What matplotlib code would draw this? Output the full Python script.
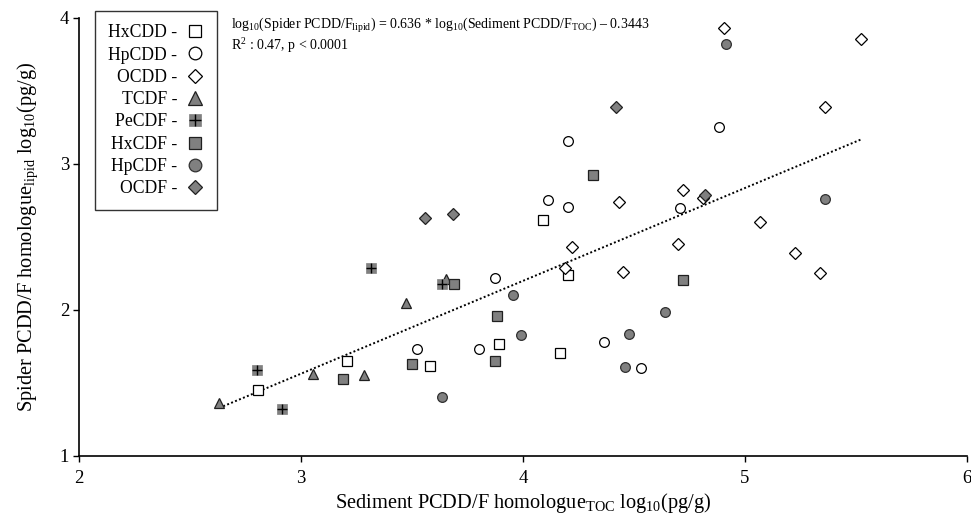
import matplotlib
matplotlib.use("Agg")
import matplotlib.pyplot as plt
from matplotlib.legend_handler import HandlerTuple
import numpy as np

# -------- DATA (log10 pg/g) --------
hxcdd_x = [2.805, 3.209, 3.581, 3.892, 4.168, 4.089, 4.203]
hxcdd_y = [1.452, 1.651, 1.616, 1.767, 1.708, 2.616, 2.240]

hpcdd_x = [3.521, 3.800, 3.872, 4.114, 4.201, 4.204, 4.363, 4.532, 4.705, 4.881]
hpcdd_y = [1.731, 1.731, 2.217, 2.751, 2.703, 3.155, 1.783, 1.605, 2.699, 3.255]

ocdd_x = [4.191, 4.221, 4.431, 4.452, 4.698, 4.722, 4.809, 4.907, 5.068, 5.224, 5.339, 5.360, 5.523]
ocdd_y = [2.288, 2.429, 2.738, 2.258, 2.450, 2.820, 2.767, 3.934, 2.603, 2.390, 2.253, 3.393, 3.856]

tcdf_x = [2.632, 3.056, 3.282, 3.473, 3.653]
tcdf_y = [1.365, 1.562, 1.555, 2.046, 2.212]

pecdf_x = [2.802, 2.914, 3.314, 3.637]
pecdf_y = [1.591, 1.324, 2.288, 2.180]

hxcdf_x = [3.188, 3.502, 3.688, 3.872, 3.881, 4.317, 4.721]
hxcdf_y = [1.525, 1.630, 2.180, 1.653, 1.961, 2.925, 2.208]

hpcdf_x = [3.637, 3.956, 3.992, 4.459, 4.479, 4.641, 4.913, 5.362]
hpcdf_y = [1.404, 2.105, 1.829, 1.612, 1.838, 1.986, 3.820, 2.758]

ocdf_x = [3.559, 3.686, 4.419, 4.821]
ocdf_y = [2.628, 2.655, 3.393, 2.786]

# regression from the figure
slope = 0.636
intercept = -0.3443
r2_text = "0.47"
p_text = "0.0001"

# -------- STYLE --------
plt.rcParams['font.family'] = ['Liberation Serif', 'DejaVu Serif']
plt.rcParams['mathtext.fontset'] = 'custom'
plt.rcParams['mathtext.rm'] = 'Liberation Serif'
plt.rcParams['mathtext.it'] = 'Liberation Serif:italic'
plt.rcParams['mathtext.bf'] = 'Liberation Serif:bold'

fig = plt.figure(figsize=(9.71, 5.14), dpi=100)
ax = fig.add_axes([79/971, 1-456/514, 888/971, 438/514])

gray = '#808080'
ms = 7

h1, = ax.plot(hxcdd_x, hxcdd_y, 's', ms=ms, mfc='white', mec='black', mew=0.9, ls='none')
h2, = ax.plot(hpcdd_x, hpcdd_y, 'o', ms=ms, mfc='white', mec='black', mew=0.9, ls='none')
h3, = ax.plot(ocdd_x, ocdd_y, 'D', ms=5.8, mfc='white', mec='black', mew=0.9, ls='none')
h4, = ax.plot(tcdf_x, tcdf_y, '^', ms=ms + 0.5, mfc=gray, mec='#202020', mew=0.9, ls='none')
h5a, = ax.plot(pecdf_x, pecdf_y, 's', ms=ms, mfc=gray, mec=gray, mew=0.5, ls='none')
h5b, = ax.plot(pecdf_x, pecdf_y, '+', ms=ms, mec='black', mew=1.0, ls='none')
h6, = ax.plot(hxcdf_x, hxcdf_y, 's', ms=ms, mfc=gray, mec='#202020', mew=0.9, ls='none')
h7, = ax.plot(hpcdf_x, hpcdf_y, 'o', ms=ms, mfc=gray, mec='#303030', mew=0.9, ls='none')
h8, = ax.plot(ocdf_x, ocdf_y, 'D', ms=5.8, mfc=gray, mec='#202020', mew=0.9, ls='none')

# -------- TRENDLINE --------
all_x = np.concatenate([hxcdd_x, hpcdd_x, ocdd_x, tcdf_x, pecdf_x, hxcdf_x, hpcdf_x, ocdf_x])
fx = np.array([all_x.min(), all_x.max()])
ax.plot(fx, slope * fx + intercept, ls=(0, (1, 1.2)), color='black', lw=1.4, zorder=1)

# -------- AXES --------
ax.set_xlim(2, 6)
ax.set_ylim(1, 4)
ax.set_xticks([2, 3, 4, 5, 6])
ax.set_yticks([1, 2, 3, 4])
ax.spines['top'].set_visible(False)
ax.spines['right'].set_visible(False)
ax.spines['left'].set_linewidth(1.2)
ax.spines['bottom'].set_linewidth(1.2)
ax.tick_params(direction='out', length=4, width=1, labelsize=13.5)
ax.tick_params(axis='x', pad=6)
ax.tick_params(axis='y', pad=3)

ax.set_xlabel(r"Sediment PCDD/F homologue$_{\mathrm{TOC}}$ log$_{10}$(pg/g)", fontsize=14.7, labelpad=3)
ax.set_ylabel(r"Spider PCDD/F homologue$_{\mathrm{lipid}}$ log$_{10}$(pg/g)", fontsize=14.7, labelpad=14)

# -------- EQUATION (one text, two lines) --------
eq = (r"log$_{10}$(Spider PCDD/F$_{\mathrm{lipid}}$) = " + f"{slope}" +
      r" * log$_{10}$(Sediment PCDD/F$_{\mathrm{TOC}}$) " + "\u2013 " + f"{abs(intercept)}" +
      "\n" + r"R$^{2}$ : " + f"{r2_text}, p < {p_text}")
fig.text(231/971, 1-16/514, eq, fontsize=10, va='top', ha='left', linespacing=1.05)

# -------- LEGEND --------
handles = [h1, h2, h3, h4, (h5a, h5b), h6, h7, h8]
labels = ["HxCDD -", "HpCDD -", "OCDD -", "TCDF -", "PeCDF -", "HxCDF -", "HpCDF -", "OCDF -"]
leg = ax.legend(handles, labels, loc='upper left', bbox_to_anchor=(95/971, 1-11/514),
                bbox_transform=fig.transFigure, borderaxespad=0, markerfirst=False,
                fontsize=12.7, frameon=True, fancybox=False, edgecolor='black',
                markerscale=1.3, handlelength=1.0, handletextpad=0.5, labelspacing=0.3,
                borderpad=0.75, handler_map={tuple: HandlerTuple(ndivide=1)})
leg.get_frame().set_linewidth(1.0)

fig.savefig("out.png", dpi=100)
